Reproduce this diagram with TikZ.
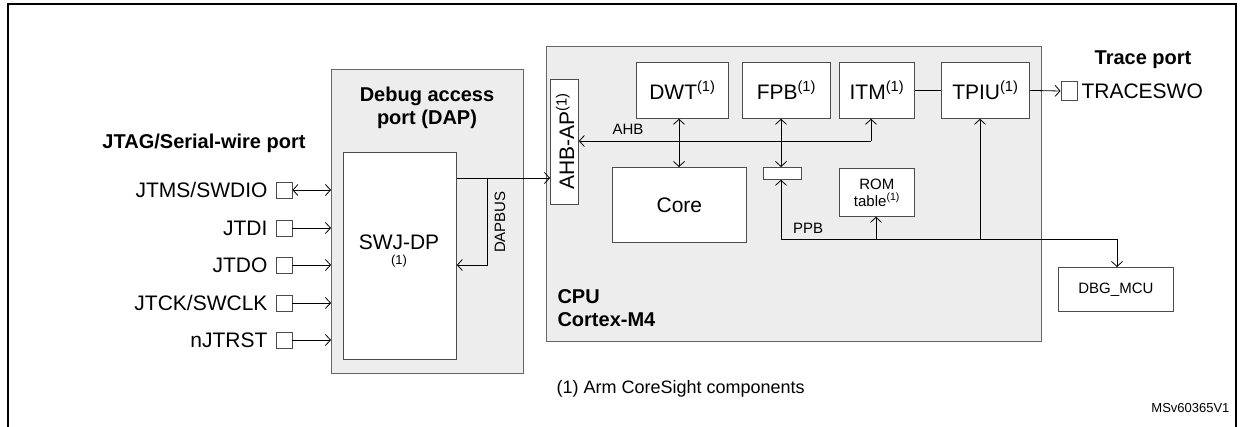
\documentclass[tikz,border=0pt]{standalone}
\usepackage{fontspec}
\setmainfont{Liberation Sans}
\usetikzlibrary{arrows.meta}
\begin{document}
\begin{tikzpicture}[x=1pt,y=-1pt,
  ar/.style={-{Straight Barb[length=5pt,width=11pt]},line width=0.8pt},
  dar/.style={{Straight Barb[length=5pt,width=11pt]}-{Straight Barb[length=5pt,width=11pt]},line width=0.8pt},
  bx/.style={draw=black!70,fill=white,line width=0.8pt},
  grp/.style={draw=black!60,fill=black!7,line width=0.8pt},
  big/.style={font=\fontsize{21}{23}\selectfont},
  bold/.style={font=\fontsize{20}{23}\selectfont\bfseries},
  sm/.style={font=\fontsize{15}{17}\selectfont},
  pin/.style={draw=black!70,fill=white,minimum size=16pt,inner sep=0pt,line width=0.8pt}]
\useasboundingbox (0,0) rectangle (1241,426);
\draw[line width=1.2pt] (8,430) -- (8,4) -- (1236,4) -- (1236,430);
% DAP
\node[grp,minimum width=192pt,minimum height=304pt,anchor=north west] (dap) at (331,69) {};
\node[bold,align=center] (daptitle) at (427,108) {Debug access\\port (DAP)};
\node[bx,minimum width=113pt,minimum height=207pt,anchor=north west] (swj) at (343,152) {};
\node[big] (swjt) at (399,242) {SWJ-DP};
\node[font=\fontsize{13}{15}\selectfont] (swjn) at (399,261) {(1)};
\node[bold] (jtag) at (204,143) {JTAG/Serial-wire port};
% pins
\foreach \n/\t/\y in {p1/JTMS\slash SWDIO/190,p2/JTDI/228,p3/JTDO/265,p4/JTCK\slash SWCLK/303,p5/nJTRST/340}{
  \node[pin] (\n) at (284,\y) {};
  \node[big,anchor=east] (\n l) at (271,\y) {\t};
}
\draw[dar] (p1.east) -- (331,190);
\foreach \n/\y in {p2/228,p3/265,p4/303,p5/340}{\draw[ar] (\n.east) -- (331,\y);}
% CPU
\node[grp,minimum width=495pt,minimum height=295pt,anchor=north west] (cpu) at (546,46) {};
\node[bold,anchor=west,align=left] (cpul) at (554,308) {CPU\\Cortex-M4};
\node[bx,minimum width=28pt,minimum height=125pt,anchor=north west] (ahbap) at (550,79) {};
\node[big,rotate=90] (ahbapt) at (565,141) {AHB-AP\textsuperscript{(1)}};
\node[bx,minimum width=92pt,minimum height=56pt,anchor=north west] (dwt) at (636,62) {};
\node[big] at (dwt.center) {DWT\textsuperscript{(1)}};
\node[bx,minimum width=88pt,minimum height=56pt,anchor=north west] (fpb) at (742,62) {};
\node[big] at (fpb.center) {FPB\textsuperscript{(1)}};
\node[bx,minimum width=75pt,minimum height=56pt,anchor=north west] (itm) at (839,62) {};
\node[big] at (itm.center) {ITM\textsuperscript{(1)}};
\node[bx,minimum width=88pt,minimum height=56pt,anchor=north west] (tpiu) at (941,62) {};
\node[big] at (tpiu.center) {TPIU\textsuperscript{(1)}};
\node[bx,minimum width=134pt,minimum height=75pt,anchor=north west] (core) at (612,167) {};
\node[big] at (core.center) {Core};
\node[bx,minimum width=38pt,minimum height=12pt,anchor=north west] (mux) at (763,167) {};
\node[bx,minimum width=75pt,minimum height=48pt,anchor=north west] (rom) at (839,168) {};
\node[sm,align=center] at (rom.center) {ROM\\table\textsuperscript{(1)}};
\node[bx,minimum width=115pt,minimum height=44pt,anchor=north west] (dbg) at (1058,267) {};
\node[sm] at (dbg.center) {DBG\_MCU};
% trace port
\node[pin,minimum width=16pt,minimum height=19pt] (tsq) at (1069,91) {};
\node[big,anchor=west] (tsw) at (1078,91) {TRACESWO};
\node[bold] (tp) at (1143,60) {Trace port};
\draw[ar] (tpiu.east) -- (tsq.west);
\draw[line width=0.8pt] (itm.east) -- (tpiu.west);
% DAP connections
\coordinate (d1) at (487,178);
\coordinate (d2) at (487,265);
\draw[ar] (swj.east |- d1) -- (ahbap.west |- d1);
\draw[ar] (d1) -- (d2) -- (swj.east |- d2);
\node[sm,rotate=90] (dapbus) at (500,222) {DAPBUS};
% AHB
\coordinate (a1) at (871,141);
\draw[ar] (a1) -- (itm.south -| a1);
\draw[ar] (a1) -- (ahbap.east |- a1);
\node[sm] (ahb) at (628,129) {AHB};
\draw[dar] (dwt.south -| 679,0) -- (core.north -| 679,0);
\draw[dar] (fpb.south -| 781,0) -- (mux.north -| 781,0);
% PPB
\coordinate (b1) at (781,239);
\coordinate (b2) at (1117,239);
\draw[ar] (b1) -- (mux.south -| b1);
\draw[ar] (b1) -- (b2) -- (dbg.north -| b2);
\draw[ar] (876,239) -- (rom.south -| 876,0);
\draw[ar] (980,239) -- (tpiu.south -| 980,0);
\node[sm] (ppb) at (808,228) {PPB};
\node[font=\fontsize{18}{20}\selectfont,anchor=west] (note) at (553,389) {(1) Arm CoreSight components};
\node[font=\fontsize{13}{15}\selectfont,anchor=east] (ms) at (1233,408) {MSv60365V1};
\end{tikzpicture}
\end{document}
